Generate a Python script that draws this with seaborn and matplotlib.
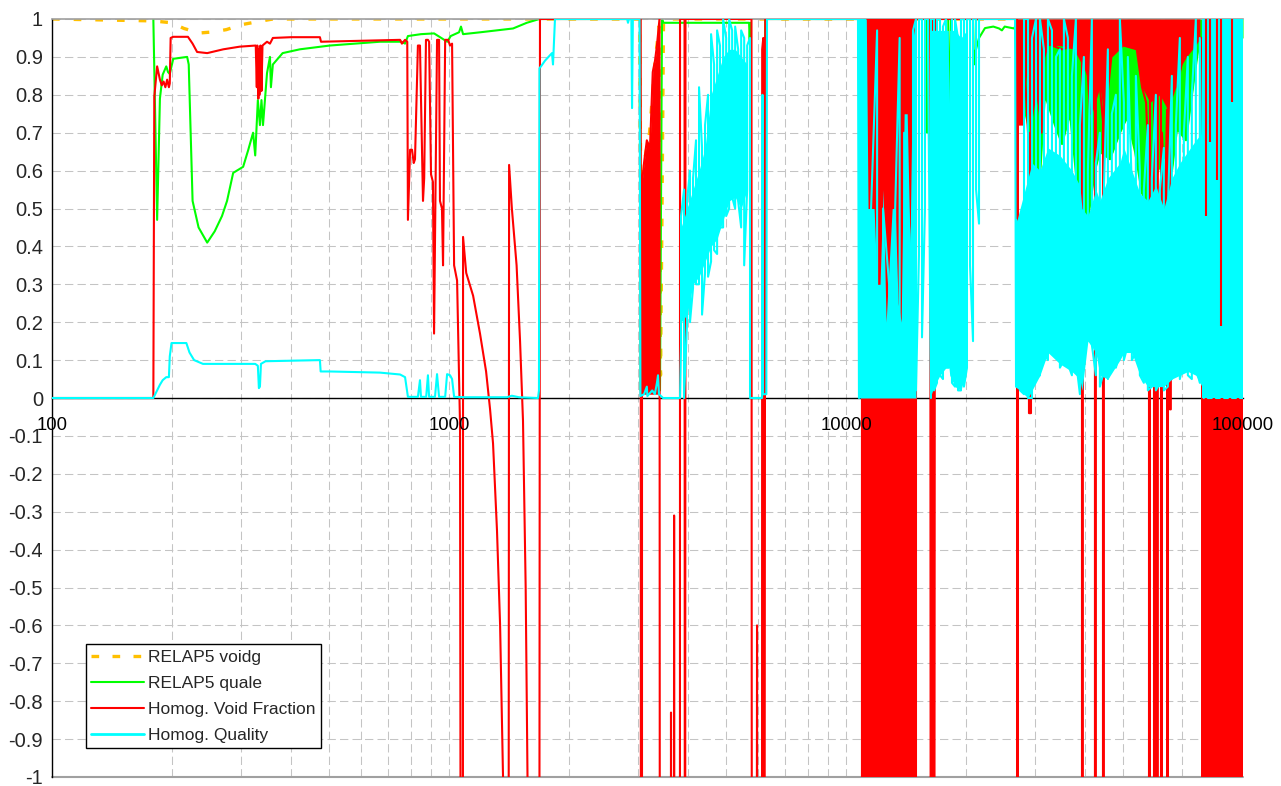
import numpy as np
import pandas as pd
import matplotlib
matplotlib.use("Agg")
import matplotlib.pyplot as plt
import seaborn as sns
from matplotlib.lines import Line2D
from matplotlib.ticker import FixedLocator, FixedFormatter, LogLocator, NullFormatter

# ---------------- data (time [s], value) ----------------
# RELAP5 voidg
voidg_t = [100, 180, 200, 215, 235, 255, 275, 300, 330, 360, 3020, 3040, 3100, 3200, 3300, 3380, 3410, 3440, 3470, 100000]
voidg = [1.0, 0.995, 0.99, 0.975, 0.963, 0.966, 0.972, 0.985, 0.993, 1.0, 1.0, 0.57, 0.62, 0.7, 0.88, 0.98, 0.06, 0.5, 1.0, 1.0]

# RELAP5 quale
quale_t_a = [180, 184, 187, 190, 194, 196, 198, 202, 219, 221, 226, 234, 246, 257, 268, 276, 286, 303, 312, 321,
             325, 330, 334, 337, 340, 348, 354, 356, 360, 381, 421, 501, 670, 760, 775, 788, 850, 917, 990, 1010,
             1060, 1072, 1085, 1200, 1450, 1570, 1690]
quale_a = [1.0, 0.47, 0.79, 0.853, 0.875, 0.86, 0.855, 0.895, 0.9, 0.88, 0.52, 0.45, 0.41, 0.44, 0.48, 0.52, 0.594, 0.61, 0.654, 0.70,
           0.64, 0.786, 0.72, 0.786, 0.72, 0.857, 0.9, 0.82, 0.88, 0.91, 0.92, 0.93, 0.94, 0.94, 0.935, 0.955, 0.96, 0.962, 0.94, 0.955,
           0.965, 0.98, 0.96, 0.965, 0.975, 0.99, 1.0]
quale_t_b = [3030, 3040, 3400, 3440, 3470, 5700, 5720, 5740, 5760, 6230, 6260, 11170, 11250, 11400, 13950, 14010, 14100, 14200,
             15900, 16000, 16100, 16200, 18100, 18170, 18300, 18400, 20890, 21000, 21135, 21630, 22390, 23500, 24300, 24700, 25100, 26500]
quale_b = [1.0, 0.02, 0.02, 1.0, 0.99, 0.99, 0.945, 0.99, 0.0, 0.0, 1.0, 1.0, 0.75, 1.0, 1.0, 0.78, 0.91, 1.0,
           1.0, 0.7, 0.91, 1.0, 1.0, 0.65, 0.86, 1.0, 1.0, 0.88, 0.91, 0.95, 0.976, 0.98, 0.975, 0.97, 0.98, 0.975]
quale_t_e = [26660, 27100, 27910, 29070, 30460, 31700, 33600, 35010, 36660, 38400, 40670, 42370, 43600, 46230, 48980,
             51030, 53460, 55670, 58310, 61080, 63600, 66250, 68200, 71840, 75690, 77850, 100000]
quale_e = [0.98, 0.8, 0.78, 0.7, 0.5, 0.8, 0.72, 0.67, 0.75, 0.54, 0.47, 0.6, 0.65, 0.63, 0.7,
           0.74, 0.65, 0.54, 0.5, 0.6, 0.64, 0.6, 0.71, 0.68, 0.86, 0.95, 0.95]

# Homog. Void Fraction
void_pts_a = [(100, 0), (180, 0), (181, 0.795), (184, 0.875), (187, 0.84), (189, 0.825), (191, 0.835), (193, 0.82),
              (195, 0.84), (197, 0.82), (198, 0.83), (199, 0.95), (202, 0.953), (220, 0.953), (226, 0.935), (232, 0.913),
              (246, 0.91), (270, 0.92), (297, 0.927), (326, 0.93), (328, 0.82), (329, 0.93), (331, 0.79), (332, 0.92),
              (333, 0.8), (335, 0.93), (337, 0.81), (339, 0.93), (348, 0.94), (354, 0.935), (360, 0.95), (400, 0.952),
              (473, 0.952), (476, 0.94), (753, 0.945), (761, 0.935), (775, 0.945), (785, 0.94), (788, 0.47), (798, 0.655),
              (807, 0.655), (815, 0.62), (821, 0.63), (835, 0.93), (845, 0.93), (860, 0.52), (866, 0.58), (875, 0.945),
              (885, 0.945), (891, 0.94), (901, 0.59), (911, 0.57), (917, 0.17), (933, 0.945), (944, 0.945), (949, 0.52),
              (960, 0.5), (966, 0.35), (978, 0.945), (995, 0.945), (1006, 0.93), (1018, 0.935), (1030, 0.35), (1048, 0.31),
              (1066, -0.07), (1075, -3), (1083, -3), (1085, 0.425), (1105, 0.33), (1150, 0.27), (1197, 0.17), (1240, 0.07),
              (1269, -0.03), (1291, -0.12), (1321, -0.35), (1345, -0.6), (1368, -1.0), (1380, -3), (1410, -3), (1417, 0.615),
              (1440, 0.5), (1480, 0.35), (1510, 0.15), (1536, -0.06), (1560, -0.5), (1580, -1.1), (1600, -3), (1685, -3),
              (1695, 1.0), (3028, 1.0)]
void_pts_b = [(3040, 1.0), (3045, -3), (3063, -3), (3063, 0.567), (3099, 0.62), (3150, 0.68), (3208, 0.66), (3260, 0.86),
              (3303, 0.89), (3340, 0.93), (3361, 0.96), (3390, 1.0), (3400, -3), (3610, -3), (3624, -0.83), (3640, -3),
              (3680, -3), (3690, -0.31), (3700, -3), (3815, -3), (3819, 1.0), (3920, 1.0), (3931, -3), (3942, 1.0),
              (5780, 1.0), (5798, -3), (5940, -3), (5969, -0.6), (5990, -3), (6140, -3), (6150, 0.92), (6190, 0.95),
              (6220, -3), (6260, 1.0), (10720, 1.0), (10970, 1.0), (10970, -3), (15007, -3), (15007, 1.0), (16300, 1.0),
              (16370, -3), (16500, 1.0), (16660, -3), (16756, 1.0), (26660, 1.0)]
void_pts_e = [(26970, 1.0), (26970, -3), (27100, -3), (27100, 0.72), (27440, 0.75), (28080, 0.9), (28740, 0.7), (28900, 0.7),
              (28900, -0.04), (29240, -0.04), (29240, 0.72), (29800, 0.95), (30460, 0.8), (31100, 0.7), (31520, 0.95),
              (33000, 0.93), (35000, 0.92), (38000, 0.93), (39300, 0.93), (39300, -3), (39500, -3), (39500, 0.9),
              (40670, 0.85), (41200, 0.75), (42370, 0.85), (42370, -3), (42600, -3), (42600, 0.82), (43600, 0.82),
              (44390, 0.73), (44390, -3), (44620, -3), (44620, 0.9), (46000, 0.93), (50000, 0.93), (54000, 0.92),
              (55670, 0.82), (57000, 0.78), (57970, 0.575), (57970, -3), (58300, -3), (58300, 0.8), (59680, 0.8),
              (59680, -3), (60000, -3), (60000, 0.78), (60730, 0.78), (60730, -3), (61000, -3), (61000, 0.8),
              (62150, 0.8), (62150, -3), (62500, -3), (62500, 0.7), (63600, 0.5), (64380, 0.76), (64380, -3),
              (64670, -3), (64670, 0.8), (65460, 0.8), (65460, -0.03), (65800, -0.03), (65800, 0.85), (68200, 0.82),
              (70000, 0.88), (71840, 0.9), (75690, 0.93), (77850, 0.95), (78860, 0.95), (78860, -3), (100000, -3)]
void_fill_a_t = [3063, 3099, 3150, 3208, 3260, 3303, 3340, 3361, 3390]
void_fill_a_hi = [0.567, 0.62, 0.68, 0.66, 0.86, 0.89, 0.93, 0.96, 1.0]
void_band_t = [26660, 26970, 27910, 28400, 29070, 30100, 31100, 31700, 32260, 34580, 37500, 40670, 41620,
               43600, 45000, 46740, 50000, 54000, 55670, 58310, 61740, 64670, 67740, 71000, 75690, 77850]
void_band_lo = [1.0, 0.72, 0.72, 0.85, 0.7, 0.8, 0.7, 0.9, 0.93, 0.93, 0.92, 0.85, 0.75,
                0.82, 0.73, 0.9, 0.93, 0.92, 0.82, 0.78, 0.8, 0.76, 0.82, 0.9, 0.93, 0.95]
# 11-15 ks burst: full-scale swings, drawn as the envelope they fill
void_block_c_t = [10970, 12000, 13500, 15007]
void_block_c_lo = [-1.05, -1.05, -1.05, -1.05]
void_block_c_hi = [1.0, 1.0, 1.0, 1.0]
void_block_e_t = [78860, 90000, 100000]
void_block_e_lo = [-1.05, -1.05, -1.05]
void_block_e_hi = [0.0, 0.0, 0.0]
void_over_t = [80600, 82600, 85900, 88000, 93810]
void_over_lo = [0.48, 0.675, 0.575, 0.19, 0.78]

# Homog. Quality
qual_pts_a = [(100, 0), (180, 0), (184, 0.02), (187, 0.035), (190, 0.047), (194, 0.055), (197, 0.055), (198, 0.11),
              (200, 0.145), (218, 0.145), (222, 0.12), (228, 0.1), (240, 0.09), (300, 0.09), (325, 0.09), (330, 0.085),
              (332, 0.026), (334, 0.03), (336, 0.09), (345, 0.097), (473, 0.1), (475, 0.07), (501, 0.07), (670, 0.067),
              (753, 0.062), (775, 0.055), (788, 0.003), (798, 0.003), (835, 0.003), (845, 0.047), (850, 0.003),
              (876, 0.003), (885, 0.06), (891, 0.003), (922, 0.003), (933, 0.063), (944, 0.003), (978, 0.003),
              (989, 0.063), (1006, 0.06), (1018, 0.05), (1030, 0.003), (1100, 0.002), (1400, 0.002), (1440, 0.006),
              (1500, 0.002), (1676, 0.0), (1685, 0.02), (1690, 0.87), (1705, 0.875), (1745, 0.89), (1780, 0.9),
              (1817, 0.91), (1828, 0.88), (1849, 1.0), (2810, 1.0), (2824, 0.99), (2840, 1.0), (2880, 1.0), (2891, 0.765),
              (2905, 1.0), (3020, 1.0), (3035, 0.005), (3100, 0.01), (3150, 0.03), (3160, 0.005), (3250, 0.02),
              (3300, 0.01), (3340, 0.04), (3361, 0.06), (3380, 0.01), (3420, 0.005), (3460, 0.0), (3819, 0.0)]
qual_b_t = [3841, 3909, 3978, 4046, 4118, 4190, 4264, 4339, 4415, 4493, 4572, 4653, 4735, 4815, 4903, 4990, 5077,
            5167, 5257, 5350, 5444, 5540, 5637, 5731]
qual_b_lo = [0.14, 0.0, 0.2, 0.2, 0.29, 0.3, 0.3, 0.22, 0.33, 0.32, 0.36, 0.39, 0.38, 0.45, 0.45, 0.48, 0.5,
             0.53, 0.5, 0.52, 0.45, 0.35, 0.55, 0.0]
qual_b_hi = [0.48, 0.55, 0.52, 0.6, 0.58, 0.68, 0.82, 0.66, 0.72, 0.8, 0.96, 0.88, 0.97, 0.93, 1.0, 0.95, 1.0,
             0.97, 0.98, 0.92, 0.97, 0.95, 0.93, 0.95]
qual_pts_m = [(5800, 0.0), (6146, 0.0), (6160, 0.8), (6180, 0.01), (6300, 0.01), (6324, 1.0), (10720, 1.0)]
qual_c_t = [10783, 11167, 11565, 11977, 12400, 12840, 13300, 13650, 14010, 14495, 14750, 15007]
qual_c_lo = [0.0, 0.01, 0.01, 0.02, 0.01, 0.02, 0.03, 0.02, 0.02, 0.02, 0.01, 0.02]
qual_c_hi = [1.0, 1.0, 0.5, 0.97, 0.5, 0.3, 0.5, 0.95, 0.7, 0.4, 0.97, 1.0]
qual_d_t = [15270, 15540, 15810, 16090, 16370, 16660, 16950, 17250, 17550, 17860, 18170, 18490, 18820, 19150,
            19480, 19820, 20170, 20530, 20890, 21260, 21630]
qual_d_lo = [0.38, 0.16, 0.5, 0.92, 0.0, 0.02, 0.04, 0.06, 0.05, 0.08, 0.08, 0.04, 0.03, 0.02, 0.02, 0.03,
             0.08, 0.35, 0.15, 0.55, 0.46]
qual_d_hi = [1.0, 1.0, 1.0, 1.0, 1.0, 1.0, 1.0, 1.0, 0.98, 1.0, 0.65, 1.0, 1.0, 0.95, 1.0, 1.0, 1.0, 1.0,
             1.0, 1.0, 1.0]
qual_pts_m2 = [(26660, 1.0)]
qual_e_t = [26810, 27440, 28080, 28740, 29410, 30100, 30800, 31520, 32260, 33020, 33790, 34580, 35390, 36220,
            37070, 37940, 38830, 39740, 40670, 41620, 42600, 43600, 44620, 45670, 46740, 47840, 48960, 50110,
            51280, 52490, 53720, 54980, 56270, 57590, 58940, 60320, 61740, 63180, 64670, 66190, 67740, 69330,
            70960, 72620, 74320, 76070, 77850]
qual_e_lo = [0.03, 0.02, 0.01, 0.0, 0.0, 0.05, 0.06, 0.12, 0.1, 0.13, 0.12, 0.08, 0.1, 0.09, 0.06, 0.1, 0.01,
             0.15, 0.18, 0.14, 0.06, 0.03, 0.07, 0.05, 0.1, 0.08, 0.12, 0.1, 0.14, 0.1, 0.12, 0.06, 0.04, 0.02,
             0.03, 0.02, 0.04, 0.02, 0.03, 0.05, 0.08, 0.05, 0.1, 0.06, 0.05, 0.08, 0.04]
qual_e_hi = [0.47, 0.45, 1.0, 1.0, 0.95, 1.0, 1.0, 0.92, 1.0, 0.97, 0.9, 0.92, 1.0, 0.95, 0.85, 1.0, 0.72,
             0.9, 0.6, 1.0, 0.62, 0.7, 0.55, 0.92, 0.75, 0.8, 1.0, 0.78, 0.9, 0.55, 0.85, 0.6, 0.55, 0.72,
             0.58, 0.8, 0.55, 0.66, 0.5, 0.85, 0.72, 0.95, 0.7, 0.9, 0.8, 1.0, 0.95]
qual_f_t = [79680, 81550, 83460, 85420, 87420, 89600, 91660, 93810, 96020, 98270]
qual_f_lo = [0.0] * 10
qual_f_hi = [1.0] * 10
qual_pts_end = [(100000, 0.0)]
# dense cores of the quality trace
qual_core_b_t = [3841, 3978, 4118, 4264, 4415, 4572, 4735, 4903, 5077, 5257, 5444, 5637]
qual_core_b_lo = [0.2, 0.22, 0.3, 0.32, 0.36, 0.4, 0.42, 0.47, 0.52, 0.53, 0.5, 0.55]
qual_core_b_hi = [0.45, 0.5, 0.55, 0.6, 0.66, 0.8, 0.85, 0.9, 0.92, 0.92, 0.9, 0.88]
qual_core_c_t = [10783, 11250, 11365, 11769, 11977, 12180, 12400, 12620, 12840, 13070, 13300, 13530,
                 13770, 14010, 14260, 14495, 14750, 15007]
qual_core_c_hi = [1.0, 1.0, 0.5, 0.5, 0.3, 0.3, 0.55, 0.2, 0.35, 0.5, 0.5, 0.25,
                  0.2, 0.75, 0.75, 0.4, 0.95, 1.0]
qual_core_d_t = [16278, 16660, 17250, 17860, 18100, 18170, 18250, 18820, 19480, 20170]
qual_core_d_lo = [0.0, 0.03, 0.06, 0.08, 0.08, 0.08, 0.06, 0.03, 0.02, 0.08]
qual_core_d_hi = [0.97, 0.97, 0.97, 0.97, 0.97, 0.66, 0.97, 0.97, 0.95, 0.97]
qual_core_e_t = [26660, 27440, 28740, 29410, 30800, 32260, 34580, 37070, 38830, 39300, 40670, 42600, 43600,
                 45670, 48960, 50110, 52490, 54980, 57590, 60320, 63180, 66190, 69330, 72620, 76070, 78860]
qual_core_e_lo = [0.03, 0.02, 0.0, 0.02, 0.06, 0.12, 0.09, 0.07, 0.05, 0.02, 0.15, 0.12, 0.06,
                  0.05, 0.1, 0.12, 0.12, 0.06, 0.03, 0.03, 0.03, 0.05, 0.06, 0.07, 0.06, 0.03]
qual_core_e_hi = [0.45, 0.5, 0.58, 0.62, 0.6, 0.66, 0.64, 0.6, 0.56, 0.5, 0.48, 0.55, 0.52,
                  0.58, 0.62, 0.66, 0.6, 0.54, 0.52, 0.56, 0.5, 0.58, 0.62, 0.65, 0.68, 0.7]
qual_core_f_t = [78860, 100000]

series_labels = ["RELAP5 voidg", "RELAP5 quale", "Homog. Void Fraction", "Homog. Quality"]
y_ticks = [k / 10 for k in range(-10, 11)]
y_tick_labels = [f"{k / 10:g}" for k in range(-10, 11)]
x_ticks = [100, 1000, 10000, 100000]
x_tick_labels = ["100", "1000", "10000", "100000"]

# ---------------- helpers ----------------
def from_pairs(p):
    return [a for a, _ in p], [b for _, b in p]

def strokes(t, lo, hi):
    xs, ys = [], []
    for k, (tt, a, b) in enumerate(zip(t, lo, hi)):
        xs += [tt, tt]
        ys += [a, b] if k % 2 == 0 else [b, a]
    return xs, ys

def chain(*segs):
    xs, ys = [], []
    for sx, sy in segs:
        xs += list(sx)
        ys += list(sy)
    return pd.DataFrame({"t": xs, "v": ys})

df_voidg = chain((voidg_t, voidg))
df_quale = chain((quale_t_a, quale_a), (quale_t_b, quale_b), (quale_t_e, quale_e))
df_void = chain(from_pairs(void_pts_a), from_pairs(void_pts_b), from_pairs(void_pts_e))
df_qual = chain(from_pairs(qual_pts_a), strokes(qual_b_t, qual_b_lo, qual_b_hi), from_pairs(qual_pts_m),
                strokes(qual_c_t, qual_c_lo, qual_c_hi), strokes(qual_d_t, qual_d_lo, qual_d_hi),
                from_pairs(qual_pts_m2), strokes(qual_e_t, qual_e_lo, qual_e_hi),
                strokes(qual_f_t, qual_f_lo, qual_f_hi), from_pairs(qual_pts_end))

# ---------------- styling ----------------
sns.set_style("white")
plt.rcParams["font.family"] = ["Liberation Sans", "DejaVu Sans"]
plt.rcParams["axes.unicode_minus"] = False

C_ORANGE = "#FFC000"
C_GREEN = "#00FF00"
C_RED = "#FF0000"
C_CYAN = "#00FFFF"
LW = 1.5

fig = plt.figure(figsize=(12.81, 7.86), dpi=100)
ax = fig.add_axes([52 / 1281, 9 / 786, 1191 / 1281, 758 / 786])
ax.set_xscale("log")
ax.set_xlim(100, 100000)
ax.set_ylim(-1, 1)

# series
sns.lineplot(data=df_voidg, x="t", y="v", sort=False, estimator=None, color=C_ORANGE, linewidth=2.4,
             ax=ax, legend=False, zorder=2)
ax.lines[-1].set_dashes((2.3, 4.2))

ax.fill_between(quale_t_e, quale_e, 1.0, color=C_GREEN, lw=0, zorder=2.4)
sns.lineplot(data=df_quale, x="t", y="v", sort=False, estimator=None, color=C_GREEN, linewidth=LW,
             ax=ax, legend=False, zorder=2.5)

ax.fill_between(void_fill_a_t, 0.01, void_fill_a_hi, color=C_RED, lw=0, zorder=2.9)
ax.fill_between(void_band_t, void_band_lo, 1.0, color=C_RED, lw=0, zorder=2.9)
ax.fill_between(void_block_c_t, void_block_c_lo, void_block_c_hi, facecolor=C_RED, edgecolor="none", zorder=2.9)
ax.fill_between(void_block_e_t, void_block_e_lo, void_block_e_hi, facecolor=C_RED, edgecolor="none", zorder=2.9)
sns.lineplot(data=df_void, x="t", y="v", sort=False, estimator=None, color=C_RED, linewidth=LW,
             ax=ax, legend=False, zorder=3)

for ft, flo, fhi in [(qual_core_b_t, qual_core_b_lo, qual_core_b_hi),
                     (qual_core_c_t, 0.0, qual_core_c_hi),
                     (qual_core_d_t, qual_core_d_lo, qual_core_d_hi),
                     (qual_core_e_t, qual_core_e_lo, qual_core_e_hi),
                     (qual_core_f_t, 0.0, 1.0)]:
    ax.fill_between(ft, flo, fhi, color=C_CYAN, lw=0, zorder=3.4)
sns.lineplot(data=df_qual, x="t", y="v", sort=False, estimator=None, color=C_CYAN, linewidth=LW,
             ax=ax, legend=False, zorder=3.5)
ax.vlines(void_over_t, void_over_lo, 1.0, color=C_RED, lw=LW, zorder=3.6)

# axes
ax.set_xlim(100, 100000)
ax.set_ylim(-1, 1)
ax.set_xlabel("")
ax.set_ylabel("")

ax.xaxis.set_major_locator(FixedLocator(x_ticks))
ax.xaxis.set_major_formatter(NullFormatter())
ax.xaxis.set_minor_locator(LogLocator(base=10, subs=np.arange(2, 10)))
ax.xaxis.set_minor_formatter(NullFormatter())
ax.yaxis.set_major_locator(FixedLocator(y_ticks))
ax.yaxis.set_major_formatter(FixedFormatter(y_tick_labels))

ax.set_axisbelow(True)
grid_kw = dict(color="#C4C4C4", linewidth=0.75, linestyle=(0, (8, 4)))
ax.grid(True, which="both", axis="x", **grid_kw)
ax.grid(True, which="major", axis="y", **grid_kw)

ax.spines["bottom"].set_position(("data", 0))
ax.spines["bottom"].set_color("black")
ax.spines["bottom"].set_linewidth(1.0)
ax.spines["bottom"].set_zorder(1.8)
ax.spines["left"].set_color("black")
ax.spines["left"].set_linewidth(1.0)
ax.spines["top"].set_color("#A0A0A0")
ax.spines["top"].set_linewidth(1.2)
ax.spines["right"].set_visible(False)
ax.axhline(-1, color="#A0A0A0", lw=1.5, clip_on=False, zorder=1.5)

ax.tick_params(axis="x", which="major", direction="out", length=5, width=1, color="black")
ax.tick_params(axis="x", which="minor", length=0)
ax.tick_params(axis="y", which="major", direction="out", length=5, width=1, color="black",
               labelsize=14.5, pad=1.5)

# x tick labels sit just under the zero line, drawn over the data as in the original
for xt, xl in zip(x_ticks, x_tick_labels):
    ax.annotate(xl, xy=(xt, 0), xycoords="data", xytext=(0, -14), textcoords="offset points",
                ha="center", va="top", fontsize=13.3, color="black", zorder=20, annotation_clip=False)

handles = [Line2D([], [], color=C_ORANGE, lw=2.4, dashes=(2.3, 4.0)),
           Line2D([], [], color=C_GREEN, lw=LW),
           Line2D([], [], color=C_RED, lw=LW),
           Line2D([], [], color=C_CYAN, lw=2.0)]
leg = ax.legend(handles, series_labels, loc="lower left", bbox_to_anchor=(0.0285, 0.038),
                frameon=True, fancybox=False, framealpha=1, edgecolor="black", fontsize=12.5,
                handlelength=3.05, handletextpad=0.25, labelspacing=0.63, borderpad=0.3,
                borderaxespad=0)
leg.get_frame().set_linewidth(1.0)
leg.set_zorder(10)

fig.savefig("out.png", dpi=100)
